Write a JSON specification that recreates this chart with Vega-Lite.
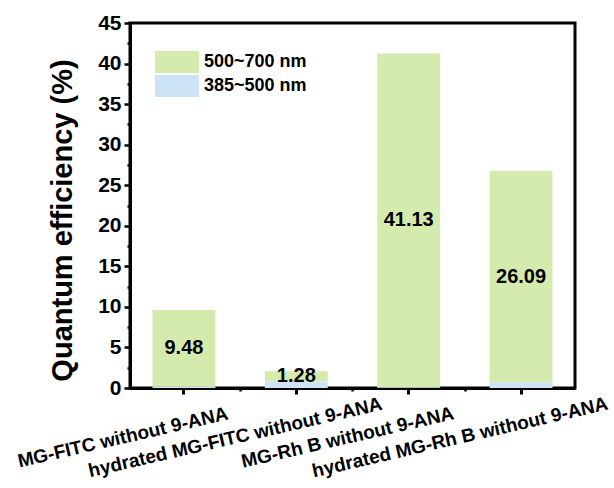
{
  "$schema": "https://vega.github.io/schema/vega-lite/v6.json",
  "width": 445,
  "height": 365,
  "autosize": {"type": "none"},
  "padding": {"left": 130, "top": 23, "right": 39, "bottom": 100},
  "background": "white",
  "config": {
    "font": "Liberation Sans",
    "view": {"stroke": "black", "strokeWidth": 3}
  },
  "data": {
    "values": [
      {"sample": "MG-FITC without 9-ANA", "green": 9.48, "blue": 0.15},
      {"sample": "hydrated MG-FITC without 9-ANA", "green": 1.28, "blue": 0.8},
      {"sample": "MG-Rh B without 9-ANA", "green": 41.13, "blue": 0.1},
      {"sample": "hydrated MG-Rh B without 9-ANA", "green": 26.09, "blue": 0.7}
    ]
  },
  "resolve": {"axis": {"x": "independent", "y": "independent"}},
  "layer": [
    {
      "transform": [
        {"fold": ["green", "blue"], "as": ["key", "value"]},
        {"calculate": "datum.key === 'green' ? '500~700 nm' : '385~500 nm'", "as": "band"}
      ],
      "mark": {"type": "bar"},
      "encoding": {
        "x": {
          "field": "sample",
          "type": "nominal",
          "sort": ["MG-FITC without 9-ANA", "hydrated MG-FITC without 9-ANA", "MG-Rh B without 9-ANA", "hydrated MG-Rh B without 9-ANA"],
          "scale": {"paddingInner": 0.44, "paddingOuter": 0.2},
          "axis": {
            "title": null,
            "orient": "bottom",
            "domainColor": "black",
            "domainWidth": 3,
            "tickColor": "black",
            "tickWidth": 3,
            "tickSize": 6,
            "labelAngle": -13,
            "labelAlign": "center",
            "labelBaseline": "middle",
            "labelOffset": -61,
            "labelPadding": 43,
            "labelFontSize": 19,
            "labelFontWeight": "bold",
            "labelColor": "black",
            "labelLimit": 0,
            "labelOverlap": false
          }
        },
        "y": {
          "field": "value",
          "type": "quantitative",
          "stack": "zero",
          "scale": {"domain": [0, 45], "nice": false},
          "axis": {
            "title": "Quantum efficiency (%)",
            "orient": "left",
            "values": [0, 5, 10, 15, 20, 25, 30, 35, 40, 45],
            "grid": false,
            "domainColor": "black",
            "domainWidth": 3,
            "tickColor": "black",
            "tickWidth": 2.5,
            "tickSize": 6,
            "labelFontSize": 21,
            "labelFontWeight": "bold",
            "labelColor": "black",
            "labelPadding": 3,
            "titleFontSize": 29,
            "titleFontWeight": "bold",
            "titleColor": "black",
            "titlePadding": 20,
            "titleY": 197
          }
        },
        "color": {
          "field": "band",
          "type": "nominal",
          "scale": {"domain": ["500~700 nm", "385~500 nm"], "range": ["#d5ebae", "#cde3f6"]},
          "legend": {
            "title": null,
            "orient": "none",
            "legendX": 25,
            "legendY": 28,
            "symbolType": "M-2,-1H2V1H-2Z",
            "symbolSize": 484,
            "symbolOffset": 11,
            "symbolOpacity": 1,
            "symbolStrokeWidth": 0,
            "rowPadding": 2,
            "labelOffset": 16,
            "labelFontSize": 18,
            "labelFontWeight": "bold",
            "labelColor": "black"
          }
        },
        "order": {"field": "band", "sort": "ascending"}
      }
    },
    {
      "transform": [
        {"calculate": "datum.blue + datum.green / 2", "as": "mid"}
      ],
      "mark": {"type": "text", "fontSize": 20, "fontWeight": "bold", "color": "black", "baseline": "middle"},
      "encoding": {
        "x": {
          "field": "sample",
          "type": "nominal",
          "sort": ["MG-FITC without 9-ANA", "hydrated MG-FITC without 9-ANA", "MG-Rh B without 9-ANA", "hydrated MG-Rh B without 9-ANA"],
          "axis": {
            "title": null,
            "orient": "bottom",
            "values": ["hydrated MG-FITC without 9-ANA", "MG-Rh B without 9-ANA", "hydrated MG-Rh B without 9-ANA"],
            "bandPosition": 0,
            "tickOffset": -25,
            "labels": false,
            "domain": false,
            "tickColor": "black",
            "tickWidth": 2.5,
            "tickSize": 3
          }
        },
        "y": {
          "field": "mid",
          "type": "quantitative",
          "axis": {
            "title": null,
            "orient": "left",
            "values": [2.5, 7.5, 12.5, 17.5, 22.5, 27.5, 32.5, 37.5, 42.5],
            "grid": false,
            "labels": false,
            "domain": false,
            "tickColor": "black",
            "tickWidth": 2.5,
            "tickSize": 3
          }
        },
        "text": {"field": "green", "type": "quantitative", "format": ".2f"}
      }
    }
  ]
}
